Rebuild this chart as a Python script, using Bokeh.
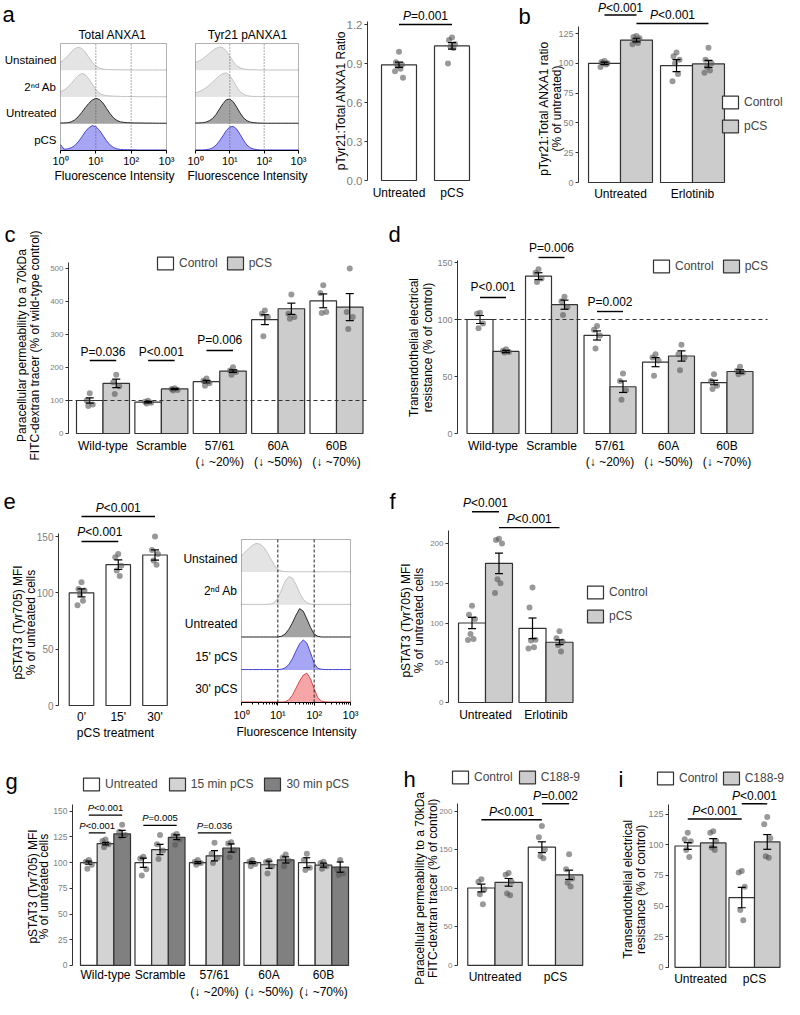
import math
from bokeh.plotting import figure
from bokeh.models import (Range1d, FixedTicker, Label, Legend, LegendItem, BoxAnnotation,
                          NumeralTickFormatter)
from bokeh.layouts import row, column
from bokeh.embed import file_html
from bokeh.resources import INLINE

FONT = "Liberation Sans"

# ======================= DATA =======================
# flow-cytometry histograms: normalised counts on a log10 intensity grid
HIST_LOG10 = [0.0, 0.1, 0.2, 0.3, 0.4, 0.5, 0.6, 0.7, 0.8, 0.9, 1.0, 1.1, 1.2, 1.3, 1.4, 1.5,
              1.6, 1.7, 1.8, 1.9, 2.0, 2.1, 2.2, 2.3, 2.4, 2.5, 2.6, 2.7, 2.8, 2.9, 3.0]
HIST_DECADES = [0, 1, 2, 3]
HIST_TICK_LABELS = ["10\u2070", "10\u00b9", "10\u00b2", "10\u00b3"]

A_ROWS = ["Unstained", "2\u207f\u1d48 Ab", "Untreated", "pCS"]
A_TOTAL_UNST = [.30, .40, .52, .68, .80, .86, .82, .68, .48, .30, .16, .08, .05, .03, .03, .02,
                .02, .02, .015, .015, .01, .01, .01, .01, .01, .01, .01, .01, .01, .01, .01]
A_TOTAL_2ND = [.20, .26, .36, .50, .66, .80, .88, .84, .68, .48, .28, .14, .08, .05, .04, .03,
               .03, .02, .02, .02, .015, .015, .01, .01, .01, .01, .01, .01, .01, .01, .01]
A_TOTAL_UNTR = [.03, .03, .04, .07, .14, .26, .42, .60, .76, .89, .95, .91, .78, .58, .38, .22,
                .12, .07, .05, .04, .035, .03, .03, .03, .025, .025, .025, .02, .02, .02, .02]
A_TOTAL_PCS = [.22, .05, .06, .10, .18, .32, .50, .70, .85, .93, .89, .76, .57, .37, .21, .11,
               .06, .04, .03, .03, .025, .025, .02, .02, .02, .02, .02, .02, .02, .02, .02]
A_TYR_UNST = [.30, .34, .42, .52, .63, .74, .82, .87, .84, .72, .52, .32, .17, .09, .05, .03,
              .02, .02, .015, .01, .01, .01, .01, .01, .01, .01, .01, .01, .01, .01, .01]
A_TYR_2ND = [.16, .20, .26, .34, .44, .56, .68, .80, .88, .90, .80, .60, .38, .20, .10, .05,
             .03, .02, .02, .015, .01, .01, .01, .01, .01, .01, .01, .01, .01, .01, .01]
A_TYR_UNTR = [.03, .03, .04, .06, .11, .20, .35, .55, .75, .90, .92, .82, .62, .40, .22, .11,
              .06, .04, .03, .025, .02, .02, .02, .02, .02, .02, .02, .02, .02, .02, .02]
A_TYR_PCS = [.02, .02, .02, .03, .05, .10, .20, .36, .55, .75, .88, .90, .80, .60, .38, .20,
             .10, .05, .03, .02, .02, .02, .02, .02, .02, .02, .02, .02, .02, .02, .02]

E_ROWS = ["Unstained", "2\u207f\u1d48 Ab", "Untreated", "15' pCS", "30' pCS"]
E_UNST = [.50, .62, .72, .82, .88, .86, .78, .62, .42, .22, .08, .03, .015, .01, .01, .01,
          .01, .01, .01, .01, .01, .01, .01, .01, .01, .01, .01, .01, .01, .01, .01]
E_2ND = [.01, .01, .01, .01, .01, .01, .01, .01, .02, .06, .20, .45, .72, .86, .82, .62,
         .36, .16, .06, .02, .01, .01, .01, .01, .01, .01, .01, .01, .01, .01, .01]
E_UNTR = [.01, .01, .01, .01, .01, .01, .01, .01, .01, .01, .01, .03, .10, .24, .44, .68,
          .88, .80, .56, .30, .10, .03, .01, .01, .01, .01, .01, .01, .01, .01, .01]
E_15 = [.01, .01, .01, .01, .01, .01, .01, .01, .01, .01, .01, .02, .06, .16, .34, .58,
        .80, .92, .82, .52, .20, .05, .02, .01, .01, .01, .01, .01, .01, .01, .01]
E_30 = [.015, .015, .015, .015, .015, .015, .015, .015, .015, .015, .015, .015, .02, .08, .22, .44,
        .66, .84, .90, .72, .42, .15, .04, .02, .015, .015, .015, .015, .015, .015, .015]

# panel a (bar)
A_GROUPS = ["Untreated", "pCS"]
A_MEAN = [0.89, 1.035]
A_SEM = [0.02, 0.025]
A_PTS = [[0.99, 0.91, 0.89, 0.88, 0.86, 0.84, 0.79], [1.10, 1.08, 1.05, 1.03, 1.02, 0.90]]

# panel b
B_GROUPS = ["Untreated", "Erlotinib"]
B_CTRL_MEAN = [100, 98]
B_CTRL_SEM = [1, 5]
B_CTRL_PTS = [[102, 101, 100, 100, 99, 97], [109, 106, 103, 100, 91, 85]]
B_PCS_MEAN = [119.5, 99.5]
B_PCS_SEM = [1.5, 3]
B_PCS_PTS = [[123, 122, 121, 119, 117, 116], [113, 103, 100, 97, 94, 92]]

# panel c
KD_GROUPS = ["Wild-type", "Scramble", "57/61\n(\u2193 ~20%)", "60A\n(\u2193 ~50%)", "60B\n(\u2193 ~70%)"]
C_CTRL_MEAN = [100, 95, 157, 345, 402]
C_CTRL_SEM = [8, 2, 4, 15, 21]
C_CTRL_PTS = [[122, 100, 88, 83], [99, 96, 93, 91], [167, 160, 152, 145], [373, 363, 353, 295],
              [449, 426, 368, 365]]
C_PCS_MEAN = [152, 135, 189, 378, 383]
C_PCS_SEM = [13, 2, 4, 17, 41]
C_PCS_PTS = [[178, 155, 143, 120], [137, 135, 132, 130], [201, 191, 186, 178], [421, 363, 353, 348],
             [500, 368, 353, 317]]

# panel d
D_CTRL_MEAN = [100, 138, 86, 62.6, 44.7]
D_CTRL_SEM = [3.5, 3, 4, 4, 2]
D_CTRL_PTS = [[106, 105, 96.5, 92.4], [144, 141, 136, 133], [94.4, 91, 86, 74.5],
              [69.6, 66.7, 64, 50.6], [52, 46, 41.8, 39]]
D_PCS_MEAN = [72, 113, 41, 68, 54.4]
D_PCS_SEM = [1, 4, 5, 4.5, 1.5]
D_PCS_PTS = [[74, 72.5, 71.5, 71], [120, 116, 111, 104], [52.6, 46, 38, 29.5],
             [77.8, 69.6, 66.7, 55.5], [58.5, 55, 53.5, 52]]
REF_LEVEL = 100

# panel e (bar)
E_GROUPS = ["0'", "15'", "30'"]
E_MEAN = [100, 125, 133.6]
E_SEM = [3.5, 4.3, 4.5]
E_PTS = [[109.4, 103.5, 102, 99, 93, 89], [134.5, 131.6, 124, 119.8, 115], [150, 138, 134.5, 128.6, 125]]

# panel f
F_GROUPS = ["Untreated", "Erlotinib"]
F_CTRL_MEAN = [100, 93.3]
F_CTRL_SEM = [7, 13]
F_CTRL_PTS = [[121.7, 110.4, 105, 86.2, 80, 78.7], [144.7, 119.6, 79, 77.9, 69.5, 68]]
F_PCS_MEAN = [175, 75.8]
F_PCS_SEM = [13, 3]
F_PCS_PTS = [[206, 204.4, 200, 155, 150, 137.6], [89.6, 80.8, 76.6, 72.4, 64]]

# panel g
G_UNTR_MEAN = [100, 100, 100, 100, 100]
G_UNTR_SEM = [1.5, 4.5, 1, 1, 4.8]
G_UNTR_PTS = [[102.7, 101, 98, 94], [105.8, 104, 93.6, 87.5], [102.7, 101, 99.7, 98],
              [102.7, 101, 98.8, 96.6], [108.8, 102.7, 95, 93]]
G_15_MEAN = [118.6, 112.8, 106.7, 98, 97.6]
G_15_SEM = [1.2, 5, 5, 3.5, 2]
G_15_PTS = [[122.6, 121, 118, 115], [127, 118, 111.9, 103.7], [119.5, 108.8, 104.9, 99.7],
            [102, 100.6, 96.6, 89.6], [101, 99.7, 96.6, 94.2]]
G_30_MEAN = [128, 124.7, 114.3, 102.7, 95.7]
G_30_SEM = [3.5, 2.3, 4, 3, 5]
G_30_PTS = [[137, 130, 127, 125.6], [128, 126.5, 122.6, 117.4], [120, 118.6, 111.9, 105.2],
            [108, 105, 102, 96.6], [102.7, 93.6, 89.6, 88]]

# panel h
HI_GROUPS = ["Untreated", "pCS"]
H_CTRL_MEAN = [100.5, 153.4]
H_CTRL_SEM = [5, 7]
H_CTRL_PTS = [[111.9, 108.6, 98.5, 92.3, 79.3], [181, 166.4, 150.5, 142, 139]]
H_C188_MEAN = [107.8, 117.6]
H_C188_SEM = [5, 6]
H_C188_PTS = [[120, 117.6, 108.6, 93.2, 91.1], [144.4, 124.9, 112.7, 107.4, 102.5]]

# panel i
I_CTRL_MEAN = [99, 56.9]
I_CTRL_SEM = [2.8, 8.3]
I_CTRL_PTS = [[109.7, 104.6, 102.8, 95.7, 90], [78.6, 77.3, 65.8, 46.7, 38.5]]
I_C188_MEAN = [101.5, 102.3]
I_C188_SEM = [3.5, 6]
I_C188_PTS = [[111, 109.7, 102.8, 97.7, 95.7], [122.7, 116.8, 105.4, 90.6, 89.5]]

# ======================= STYLE =======================
WHITE, GREY, DGREY = "white", "#cccccc", "#808080"
LIGHT = ("#e4e4e4", "#c4c4c4")
DARK = ("#a3a3a3", "#2b2b2b")
BLUE = ("#a6a6f4", "#4646d6")
RED = ("#f6a6a6", "#d94848")
JITTER_PX = [0, -3, 3, -1.5, 1.5, -4, 4]
AW = {'P': 667, '=': 584, '<': 584, '.': 278}


def twidth(s, size):
    return sum(AW.get(c, 556) for c in s) * size / 1000.0


def ry(Y):
    # bottom row is squeezed slightly so the page fits the window
    return 745 + (Y - 745) * 0.94


class Panel:
    """A figure whose frame is the whole figure; axes are pinned inside it."""

    def __init__(self, fig_box, xmap, ymap):
        X0, Y0, X1, Y1 = fig_box
        self.X0, self.Y0, self.X1, self.Y1 = fig_box
        (u0, p0), (u1, p1) = xmap
        self.u0, self.p0 = u0, p0
        self.kx = (p1 - p0) / (u1 - u0)
        (v0, q0), (v1, q1) = ymap
        self.v0, self.q0 = v0, q0
        self.ky = (q0 - q1) / (v1 - v0)
        xr = Range1d(self.xd(X0), self.xd(X1))
        yr = Range1d(self.yd(Y1), self.yd(Y0))
        p = figure(width=int(X1 - X0), height=int(Y1 - Y0), x_range=xr, y_range=yr,
                   output_backend="svg", toolbar_location=None, title=None,
                   min_border=0, min_border_left=0, min_border_right=0,
                   min_border_top=0, min_border_bottom=0)
        p.grid.visible = False
        p.grid.grid_line_color = None
        p.outline_line_color = None
        p.background_fill_color = "white"
        p.border_fill_color = "white"
        self.p = p

    def xd(self, X):
        return self.u0 + (X - self.p0) / self.kx

    def yd(self, Y):
        return self.v0 + (self.q0 - Y) / self.ky

    def text(self, X, Y, s, size=12, angle=0.0, align="center", color="black", style="normal"):
        self.p.add_layout(Label(x=X - self.X0, y=self.Y1 - Y, x_units="screen", y_units="screen",
                                text=s, text_font=FONT, text_font_size=f"{size}px",
                                text_color=color, text_align=align, text_baseline="middle",
                                angle=angle, text_font_style=style))

    def dtext(self, x, y, s, size=12, align="center", style="normal"):
        self.p.add_layout(Label(x=x, y=y, text=s, text_font=FONT, text_font_size=f"{size}px",
                                text_align=align, text_baseline="middle", text_font_style=style,
                                text_color="black"))

    def letter(self, X, Y, s):
        self.text(X, Y, s, size=22, align="left")

    def ylab(self, Xs, Y, lines, size=12):
        for X, s in zip(Xs, lines):
            self.text(X, Y, s, size=size, angle=math.pi / 2)

    def pval(self, xa, xb, y, label, size=12, dy=9, italic=True):
        self.p.segment(x0=[xa], y0=[y], x1=[xb], y1=[y], line_color="black", line_width=1.4)
        xc = (xa + xb) / 2.0
        ty = y + dy / self.ky
        if italic:
            left = xc - twidth(label, size) / 2 / self.kx
            self.dtext(left, ty, "P", size, align="left", style="italic")
            self.dtext(left + twidth("P", size) / self.kx, ty, label[1:], size, align="left")
        else:
            self.dtext(xc, ty, label, size)

    def legend(self, items, X_icon, Yc, orientation, spacing):
        leg = Legend(items=[LegendItem(label=l, renderers=[r]) for l, r in items],
                     orientation=orientation, spacing=spacing, padding=0, margin=0,
                     glyph_width=20, glyph_height=16, label_height=16, label_standoff=4,
                     label_text_font=FONT, label_text_font_size="12px",
                     border_line_color=None, background_fill_alpha=0)
        n = len(items)
        h = 16 if orientation == "horizontal" else n * 16 + (n - 1) * spacing
        top = Yc - 8
        leg.location = (X_icon - 2 - self.X0, self.Y1 - (top + h))
        self.p.add_layout(leg)


def xpos(g, s, ns, width):
    return g + (s - (ns - 1) / 2.0) * width


def grouped(P, series, width, cap_px=8):
    p = P.p
    ns = len(series)
    rends = []
    for s, (means, sems, pts, fill) in enumerate(series):
        xs = [xpos(g, s, ns, width) for g in range(len(means))]
        rends.append(p.vbar(x=xs, top=means, bottom=0, width=width, fill_color=fill,
                            line_color="#333333", line_width=1.2))
    for s, (means, sems, pts, fill) in enumerate(series):
        px, py = [], []
        for g, vals in enumerate(pts):
            xc = xpos(g, s, ns, width)
            for j, v in enumerate(vals):
                px.append(xc + JITTER_PX[j % len(JITTER_PX)] / P.kx)
                py.append(v)
        p.scatter(px, py, size=6, fill_color="#555555", fill_alpha=0.6, line_color=None)
    cw = cap_px / 2.0 / P.kx
    for s, (means, sems, pts, fill) in enumerate(series):
        xs = [xpos(g, s, ns, width) for g in range(len(means))]
        lo = [m - e for m, e in zip(means, sems)]
        hi = [m + e for m, e in zip(means, sems)]
        p.segment(x0=xs, x1=xs, y0=lo, y1=hi, line_color="black", line_width=1.2)
        p.segment(x0=[x - cw for x in xs], x1=[x + cw for x in xs], y0=lo, y1=lo,
                  line_color="black", line_width=1.2)
        p.segment(x0=[x - cw for x in xs], x1=[x + cw for x in xs], y0=hi, y1=hi,
                  line_color="black", line_width=1.2)
    return rends


def style_axes(P, X_axis, yticks, ybounds, ysize, xlabels, xsize=12, xstandoff=5, yfmt=None):
    p = P.p
    ya = p.yaxis[0]
    ya.fixed_location = P.xd(X_axis)
    ya.ticker = FixedTicker(ticks=yticks)
    ya.bounds = ybounds
    ya.axis_line_color = "#333333"
    ya.major_tick_line_color = "#333333"
    ya.major_tick_out = 3
    ya.major_tick_in = 0
    ya.minor_tick_line_color = None
    ya.major_label_text_color = "#808080"
    ya.major_label_text_font = FONT
    ya.major_label_text_font_size = f"{ysize}px"
    ya.major_label_standoff = 2
    if yfmt:
        ya.formatter = NumeralTickFormatter(format=yfmt)
    xa = p.xaxis[0]
    xa.fixed_location = 0
    ticks = list(range(len(xlabels)))
    xa.ticker = FixedTicker(ticks=ticks)
    xa.major_label_overrides = {t: l for t, l in zip(ticks, xlabels)}
    xa.axis_line_color = None
    xa.major_tick_line_color = None
    xa.minor_tick_line_color = None
    xa.major_tick_out = 0
    xa.minor_tick_out = 0
    xa.major_label_text_font = FONT
    xa.major_label_text_font_size = f"{xsize}px"
    xa.major_label_text_color = "black"
    xa.major_label_standoff = xstandoff


def hist(P, rows, curves, styles, guide_dash, guide_color, show_rows, row_size, minor=False):
    """Stacked histograms; x is log10(intensity) on a linear scale labelled 10^k."""
    p = P.p
    n = len(rows)
    for r, (h, (fill, line)) in enumerate(zip(curves, styles)):
        base = n - 1 - r
        top = [base + v for v in h]
        p.varea(x=HIST_LOG10, y1=[base] * len(HIST_LOG10), y2=top, fill_color=fill)
        p.line(HIST_LOG10, top, line_color=line, line_width=1)
    lo, hi = HIST_DECADES[0], HIST_DECADES[-1]
    p.segment(x0=HIST_DECADES[1:3], x1=HIST_DECADES[1:3], y0=[0, 0], y1=[n, n],
              line_color=guide_color, line_dash=guide_dash, line_width=1)
    p.add_layout(BoxAnnotation(left=lo, right=hi, bottom=0, top=n, fill_alpha=0,
                               line_color="black", line_width=1))
    xa = p.xaxis[0]
    xa.fixed_location = 0
    mt = []
    if minor:
        for d in HIST_DECADES[:3]:
            mt += [d + math.log10(k) for k in range(2, 10)]
    xa.ticker = FixedTicker(ticks=HIST_DECADES, minor_ticks=mt)
    xa.major_label_overrides = {t: l for t, l in zip(HIST_DECADES, HIST_TICK_LABELS)}
    xa.major_label_text_font = FONT
    xa.major_label_text_font_size = "11px"
    xa.major_label_text_color = "black"
    xa.axis_line_color = "black"
    xa.major_tick_line_color = "black"
    xa.major_tick_out = 3
    xa.major_tick_in = 0
    xa.minor_tick_out = 2
    xa.minor_tick_in = 0
    xa.minor_tick_line_color = "black" if minor else None
    xa.major_label_standoff = 1 if not minor else 3
    xa.bounds = (lo, hi)
    ya = p.yaxis[0]
    if show_rows:
        ya.fixed_location = lo
        offs = 3.0 / P.ky
        ticks = [round(n - r - 0.5 - offs, 2) for r in range(n)]
        ya.ticker = FixedTicker(ticks=ticks)
        ya.major_label_overrides = {t: l for t, l in zip(ticks, rows)}
        ya.axis_line_color = None
        ya.major_tick_line_color = None
        ya.minor_tick_line_color = None
        ya.major_tick_out = 0
        ya.major_label_text_font = FONT
        ya.major_label_text_font_size = f"{row_size}px"
        ya.major_label_text_color = "black"
        ya.major_label_standoff = 4
    else:
        ya.visible = False


# ======================= ROW 1 =======================
A1 = Panel((0, 0, 180, 200), ((0, 60), (3, 166)), ((0, 150), (4, 43)))
hist(A1, A_ROWS, [A_TOTAL_UNST, A_TOTAL_2ND, A_TOTAL_UNTR, A_TOTAL_PCS], [LIGHT, LIGHT, DARK, BLUE],
     "1 2", "#555555", True, 11.5)
A1.text(112, 34, "Total ANXA1")
A1.text(114, 175, "Fluorescence Intensity")
A1.letter(2, 14, "a")

A2 = Panel((180, 0, 330, 200), ((0, 195), (3, 298)), ((0, 150), (4, 43)))
hist(A2, A_ROWS, [A_TYR_UNST, A_TYR_2ND, A_TYR_UNTR, A_TYR_PCS], [LIGHT, LIGHT, DARK, BLUE],
     "1 2", "#555555", False, 11.5)
A2.text(247, 34, "Tyr21 pANXA1")
A2.text(247, 175, "Fluorescence Intensity")

AB = Panel((330, 0, 490, 200), ((0, 398.5), (1, 451.5)), ((0, 180), (1.2, 24)))
grouped(AB, [(A_MEAN, A_SEM, A_PTS, WHITE)], 0.66)
style_axes(AB, 367, [0, 0.3, 0.6, 0.9, 1.2], (0, 1.22), 11.5, A_GROUPS, xstandoff=5, yfmt="0.0")
AB.pval(0, 1, 1.2, "P=0.001")
AB.ylab([340], 100, ["pTyr21:Total ANXA1 Ratio"])

B = Panel((490, 0, 784, 200), ((0, 620), (1, 692)), ((0, 182), (125, 33)))
bw = 0.444
rb = grouped(B, [(B_CTRL_MEAN, B_CTRL_SEM, B_CTRL_PTS, WHITE), (B_PCS_MEAN, B_PCS_SEM, B_PCS_PTS, GREY)], bw)
style_axes(B, 578, [0, 25, 50, 75, 100, 125], (0, 131), 9, B_GROUPS, xstandoff=4)
B.pval(xpos(0, 0, 2, bw), xpos(0, 1, 2, bw), 140.5, "P<0.001", dy=7.5)
B.pval(xpos(0, 1, 2, bw), xpos(1, 1, 2, bw), 133.4, "P<0.001", dy=8)
B.legend([("Control", rb[0]), ("pCS", rb[1])], 722, 102, "vertical", 8)
B.ylab([543, 556], 108, ["pTyr21:Total ANXA1 ratio", "(% of untreated)"])
B.letter(518, 16, "b")

# ======================= ROW 2 =======================
C = Panel((0, 200, 400, 470), ((0, 102.5), (4, 336)), ((0, 433), (500, 268)))
cw_ = 0.454
rc = grouped(C, [(C_CTRL_MEAN, C_CTRL_SEM, C_CTRL_PTS, WHITE), (C_PCS_MEAN, C_PCS_SEM, C_PCS_PTS, GREY)], cw_)
C.p.segment(x0=[C.xd(68)], x1=[C.xd(366)], y0=[REF_LEVEL], y1=[REF_LEVEL],
            line_color="#333333", line_dash="4 3", line_width=1.2)
style_axes(C, 68, [0, 100, 200, 300, 400, 500], (0, 518), 8, KD_GROUPS, xstandoff=5)
C.pval(xpos(0, 0, 2, cw_), xpos(0, 1, 2, cw_), 221, "P=0.036", italic=False)
C.pval(xpos(1, 0, 2, cw_), xpos(1, 1, 2, cw_), 221, "P<0.001", italic=False)
C.pval(xpos(2, 0, 2, cw_), xpos(2, 1, 2, cw_), 251.5, "P=0.006", dy=11, italic=False)
C.legend([("Control", rc[0]), ("pCS", rc[1])], 157, 263, "horizontal", 7)
C.ylab([21, 34], 345, ["Paracellular permeability to a 70kDa", "FITC-dextran tracer (% of wild-type control)"])
C.letter(4, 234, "c")
C.letter(388, 234, "d")

D = Panel((400, 200, 784, 470), ((0, 492.5), (4, 726.5)), ((0, 433), (150, 262)))
dw = 0.444
rd = grouped(D, [(D_CTRL_MEAN, D_CTRL_SEM, D_CTRL_PTS, WHITE), (D_PCS_MEAN, D_PCS_SEM, D_PCS_PTS, GREY)], dw)
D.p.segment(x0=[D.xd(457)], x1=[D.xd(767)], y0=[REF_LEVEL], y1=[REF_LEVEL],
            line_color="#333333", line_dash="4 3", line_width=1.2)
style_axes(D, 457, [0, 50, 100, 150], (0, 152), 9, KD_GROUPS, xstandoff=5)
D.pval(xpos(0, 0, 2, dw), xpos(0, 1, 2, dw), 119.3, "P<0.001", dy=10, italic=False)
D.pval(xpos(1, 0, 2, dw), xpos(1, 1, 2, dw), 154.4, "P=0.006", dy=9, italic=False)
D.pval(xpos(2, 0, 2, dw), xpos(2, 1, 2, dw), 107, "P=0.002", dy=10, italic=False)
D.legend([("Control", rd[0]), ("pCS", rd[1])], 653, 266, "horizontal", 7)
D.ylab([413, 427], 347, ["Transendothelial electrical", "resistance (% of control)"])

# ======================= ROW 3 =======================
EB = Panel((0, 470, 182, 745), ((0, 81), (2, 154.5)), ((0, 705), (150, 536)))
grouped(EB, [(E_MEAN, E_SEM, E_PTS, WHITE)], 0.667)
style_axes(EB, 58, [0, 50, 100, 150], (0, 153), 10, E_GROUPS, xstandoff=4)
EB.pval(0, 2, 167.7, "P<0.001")
EB.pval(0, 1, 145.6, "P<0.001")
EB.text(115, 732, "pCS treatment")
EB.ylab([17, 30], 622, ["pSTAT3 (Tyr705) MFI", "% of untreated cells"])
EB.letter(3, 501, "e")

EH = Panel((182, 470, 385, 745), ((0, 241), (3, 350)), ((0, 702), (5, 539)))
hist(EH, E_ROWS, [E_UNST, E_2ND, E_UNTR, E_15, E_30], [LIGHT, LIGHT, DARK, BLUE, RED],
     "3 2", "#222222", True, 12, minor=True)
EH.text(296, 731, "Fluorescence Intensity")

F = Panel((385, 470, 784, 745), ((0, 485), (1, 545.5)), ((0, 702), (200, 543)))
fw = 0.446
rf = grouped(F, [(F_CTRL_MEAN, F_CTRL_SEM, F_CTRL_PTS, WHITE), (F_PCS_MEAN, F_PCS_SEM, F_PCS_PTS, GREY)], fw)
style_axes(F, 448, [0, 50, 100, 150, 200], (0, 216), 8, F_GROUPS, xstandoff=5)
F.pval(xpos(0, 0, 2, fw), xpos(0, 1, 2, fw), 240, "P<0.001")
F.pval(xpos(0, 1, 2, fw), xpos(1, 1, 2, fw), 220, "P<0.001")
F.legend([("Control", rf[0]), ("pCS", rf[1])], 587, 592, "vertical", 8)
F.ylab([405, 418], 620, ["pSTAT3 (Tyr705) MFI", "% of untreated cells"])
F.letter(389, 501, "f")

# ======================= ROW 4 =======================
G = Panel((0, 745, 400, 999), ((0, 105), (4, 323)), ((0, ry(979)), (150, ry(815))))
gw = 0.306
rg = grouped(G, [(G_UNTR_MEAN, G_UNTR_SEM, G_UNTR_PTS, WHITE), (G_15_MEAN, G_15_SEM, G_15_PTS, "#d3d3d3"),
                 (G_30_MEAN, G_30_SEM, G_30_PTS, DGREY)], gw, cap_px=7)
style_axes(G, 72, [0, 25, 50, 75, 100, 125, 150], (0, 157), 8.5, KD_GROUPS, xsize=12, xstandoff=3)
G.pval(xpos(0, 0, 3, gw), xpos(0, 2, 3, gw), 146.3, "P<0.001", size=9.5, dy=7.5)
G.pval(xpos(0, 0, 3, gw), xpos(0, 1, 3, gw), 129, "P<0.001", size=9.5, dy=7.5)
G.pval(xpos(1, 0, 3, gw), xpos(1, 2, 3, gw), 136.3, "P=0.005", size=9.5, dy=7.5)
G.pval(xpos(2, 0, 3, gw), xpos(2, 2, 3, gw), 129, "P=0.036", size=9.5, dy=7.5)
G.legend([("Untreated", rg[0]), ("15 min pCS", rg[1]), ("30 min pCS", rg[2])], 83, ry(786), "horizontal", 9)
G.ylab([32, 43], ry(895), ["pSTAT3 (Tyr705) MFI", "% of untreated cells"])
G.letter(5, ry(783), "g")

H = Panel((400, 745, 598, 999), ((0, 494.5), (1, 555)), ((0, ry(979)), (200, ry(815))))
hw = 0.45
rh = grouped(H, [(H_CTRL_MEAN, H_CTRL_SEM, H_CTRL_PTS, WHITE), (H_C188_MEAN, H_C188_SEM, H_C188_PTS, GREY)], hw)
style_axes(H, 457, [0, 50, 100, 150, 200], (0, 210), 8, HI_GROUPS, xstandoff=5)
H.pval(xpos(0, 0, 2, hw), xpos(1, 0, 2, hw), 189, "P<0.001", dy=8)
H.pval(xpos(1, 0, 2, hw), xpos(1, 1, 2, hw), 209.8, "P=0.002", dy=8)
H.legend([("Control", rh[0]), ("C188-9", rh[1])], 452, ry(779), "horizontal", 4)
H.ylab([419, 432], ry(897), ["Paracellular permeability to a 70kDa", "FITC-dextran tracer (% of control)"])
H.letter(403, ry(781), "h")

I = Panel((598, 745, 784, 999), ((0, 700), (1, 754)), ((0, ry(981)), (125, ry(818))))
iw = 0.472
ri = grouped(I, [(I_CTRL_MEAN, I_CTRL_SEM, I_CTRL_PTS, WHITE), (I_C188_MEAN, I_C188_SEM, I_C188_PTS, GREY)], iw)
style_axes(I, 668, [0, 25, 50, 75, 100, 125], (0, 133), 9, HI_GROUPS, xstandoff=5)
I.pval(xpos(0, 0, 2, iw), xpos(1, 0, 2, iw), 121, "P<0.001", dy=8)
I.pval(xpos(1, 0, 2, iw), xpos(1, 1, 2, iw), 133.4, "P<0.001", dy=8)
I.legend([("Control", ri[0]), ("C188-9", ri[1])], 657, ry(780), "horizontal", 3)
I.ylab([627, 640], ry(898), ["Transendothelial electrical", "resistance (% of control)"])
I.letter(618, ry(781), "i")

layout = column(row(A1.p, A2.p, AB.p, B.p), row(C.p, D.p), row(EB.p, EH.p, F.p), row(G.p, H.p, I.p))
open("out.html", "w").write(file_html(layout, INLINE))
